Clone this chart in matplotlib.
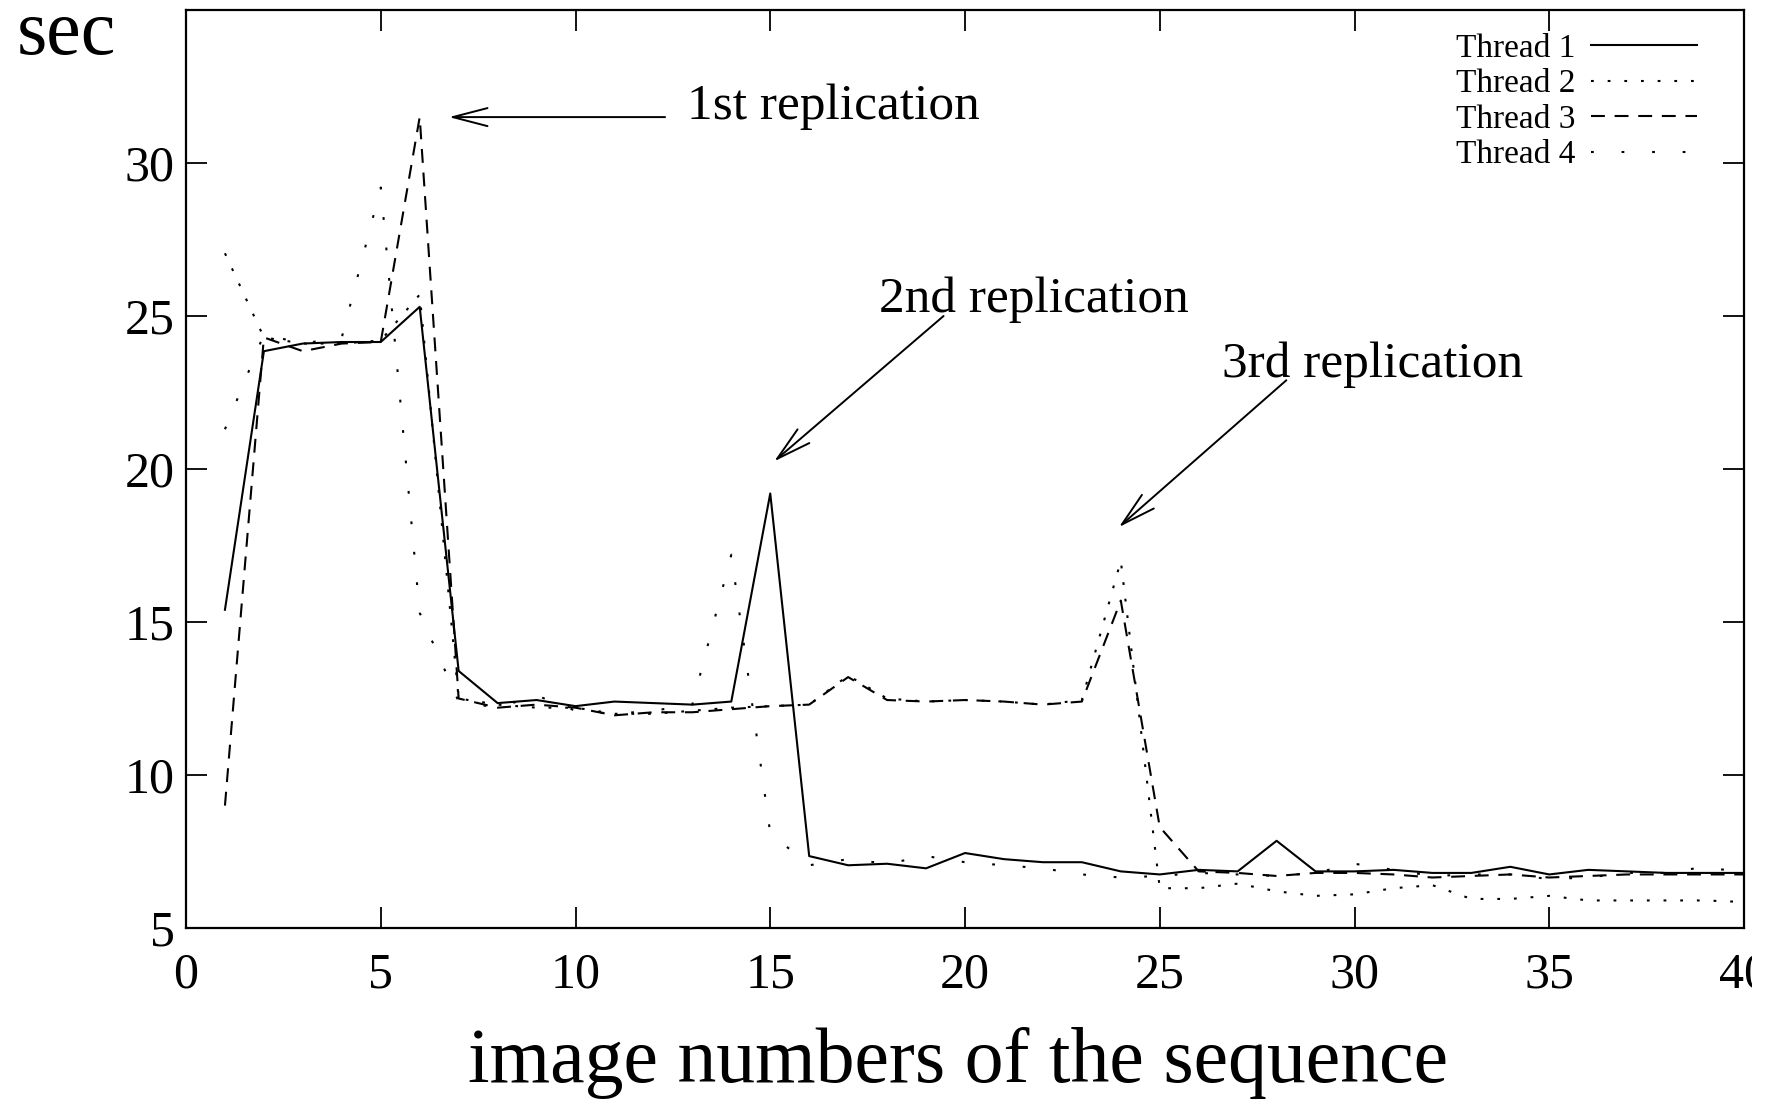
import matplotlib
matplotlib.use('Agg')
import matplotlib.pyplot as plt
from matplotlib.transforms import Bbox

# image index 1..40
frames = list(range(1, 41))

thread1 = [15.4, 23.85, 24.1, 24.15, 24.15, 25.3, 13.4, 12.35, 12.45, 12.25,
           12.4, 12.35, 12.3, 12.4, 19.2, 7.35, 7.05, 7.1, 6.95, 7.45,
           7.25, 7.15, 7.15, 6.85, 6.75, 6.9, 6.85, 7.85, 6.85, 6.85,
           6.9, 6.8, 6.8, 7.0, 6.75, 6.9, 6.85, 6.8, 6.8, 6.8]
thread2 = [27.05, 24.3, 24.1, 24.1, 24.2, 25.7, 12.5, 12.3, 12.2, 12.2,
           12.0, 12.0, 12.1, 12.2, 12.25, 12.3, 13.25, 12.5, 12.4, 12.45,
           12.4, 12.3, 12.45, 17.0, 6.3, 6.3, 6.45, 6.2, 6.05, 6.1,
           6.3, 6.4, 5.95, 5.95, 6.05, 5.9, 5.9, 5.9, 5.9, 5.85]
thread3 = [9.0, 24.3, 23.85, 24.1, 24.15, 31.5, 12.5, 12.2, 12.3, 12.2,
           11.95, 12.05, 12.05, 12.15, 12.25, 12.3, 13.2, 12.45, 12.4, 12.45,
           12.4, 12.3, 12.4, 15.7, 8.3, 6.85, 6.8, 6.7, 6.8, 6.8,
           6.75, 6.65, 6.7, 6.75, 6.65, 6.7, 6.75, 6.75, 6.75, 6.75]
thread4 = [21.3, 24.4, 24.1, 24.3, 29.2, 15.3, 12.4, 12.2, 12.6, 12.1,
           12.0, 12.1, 12.3, 17.2, 8.1, 7.05, 7.25, 7.1, 7.35, 7.15,
           7.05, 6.95, 6.75, 6.65, 6.7, 6.8, 6.75, 6.7, 6.8, 7.1,
           6.9, 6.7, 6.75, 6.75, 6.6, 6.65, 6.8, 6.8, 7.0, 6.8]

labels = ['Thread 1', 'Thread 2', 'Thread 3', 'Thread 4']
xticks = [0, 5, 10, 15, 20, 25, 30, 35, 40]
yticks = [5, 10, 15, 20, 25, 30]

# (text, text position, arrow tail, arrow head)
notes = [('1st replication', (12.87, 31.45), (12.3, 31.5), (6.75, 31.5)),
         ('2nd replication', (17.8, 25.13), (19.45, 25.0), (15.1, 20.25)),
         ('3rd replication', (26.6, 23.0), (28.25, 22.9), (23.95, 18.1))]

plt.rcParams['font.family'] = ['Liberation Serif', 'DejaVu Serif']
plt.rcParams['lines.scale_dashes'] = False

fig = plt.figure(figsize=(17.67, 11.0), dpi=100)
ax = fig.add_axes([186/1767, 1-928/1100, (1744-186)/1767, (928-10)/1100])

lw = 1.5
ax.plot(frames, thread1, color='black', lw=lw, label=labels[0])
ax.plot(frames, thread2, color='black', lw=lw, dashes=(2, 10), label=labels[1])
ax.plot(frames, thread3, color='black', lw=lw, dashes=(10, 7), label=labels[2])
ax.plot(frames, thread4, color='black', lw=lw, dashes=(2, 20), label=labels[3])

ax.set_xlim(0, 40)
ax.set_ylim(5, 35)
ax.set_xticks(xticks)
ax.set_yticks(yticks)
ax.tick_params(direction='in', length=15, width=1.3, top=True, right=True,
               labelsize=36, colors='black')
ax.tick_params(axis='x', pad=17)
ax.tick_params(axis='y', pad=8)
for s in ax.spines.values():
    s.set_linewidth(1.6)

# the reference is cropped just right of the last x label
fig.canvas.draw()
for lbl in ax.get_xticklabels():
    lbl.set_clip_box(Bbox([[0, 0], [1752, 1100]]))
    lbl.set_clip_on(True)

for txt, tpos, tail, head in notes:
    ax.text(tpos[0], tpos[1], txt, fontsize=37, ha='left', va='baseline')
    ax.annotate('', xy=head, xytext=tail,
                arrowprops=dict(arrowstyle='->,head_length=2.5,head_width=0.65',
                                lw=1.4, color='black', shrinkA=0, shrinkB=0))

leg = ax.legend(loc='upper right', markerfirst=False, frameon=False,
                fontsize=24, handlelength=3.2, handletextpad=0.45,
                labelspacing=0.15, borderaxespad=0.3,
                bbox_to_anchor=(0.985, 1.0))

fig.text(17/1767, 1-54/1100, 'sec', fontsize=56, ha='left', va='baseline')
fig.text(958/1767, 1-1082/1100, 'image numbers of the sequence', fontsize=56,
         ha='center', va='baseline')

fig.savefig('out.png', dpi=100)
